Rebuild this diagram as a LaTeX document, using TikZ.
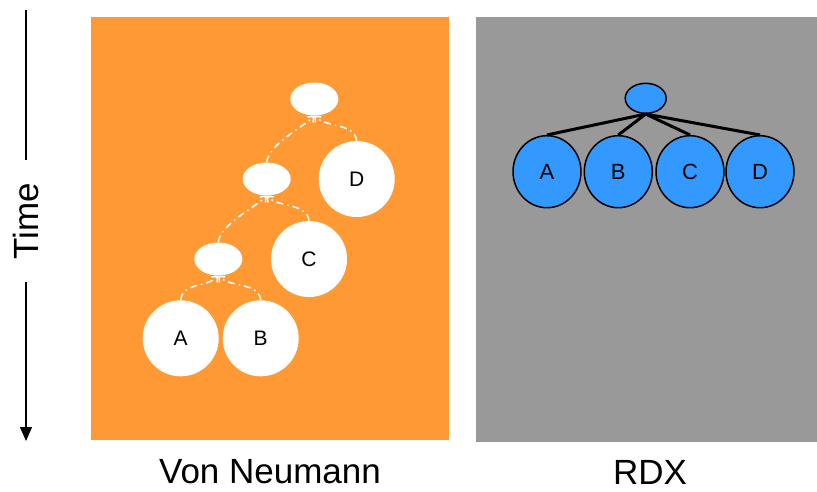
\documentclass[tikz,border=0pt]{standalone}
\usepackage{fontspec}
\setmainfont{Liberation Sans}
\usetikzlibrary{shapes.geometric,arrows.meta}
\definecolor{vnorange}{RGB}{255,153,51}
\definecolor{rdxgray}{RGB}{153,153,153}
\definecolor{rdxblue}{RGB}{51,153,255}
\tikzset{
  leaf/.style={circle,fill=white,minimum size=76pt,inner sep=0pt,font=\fontsize{21}{21}\selectfont},
  joinnode/.style={ellipse,fill=white,minimum width=48pt,minimum height=33pt,inner sep=0pt},
  conn/.style={white,line width=1.5pt,dash pattern=on 7pt off 4pt on 1.5pt off 4pt,-{Straight Barb[length=4.5pt,width=8pt]}},
  rleaf/.style={ellipse,draw=black,line width=1.5pt,fill=rdxblue,minimum width=68pt,minimum height=72pt,inner sep=0pt,font=\fontsize{22}{22}\selectfont},
  rroot/.style={ellipse,draw=black,line width=1.5pt,fill=rdxblue,minimum width=41pt,minimum height=30pt,inner sep=0pt},
  redge/.style={black,line width=3pt},
  caption/.style={font=\fontsize{35}{35}\selectfont,inner sep=0pt}
}
\begin{document}
\begin{tikzpicture}[x=1pt,y=-1pt]
\useasboundingbox (0,0) rectangle (817,491);
% panels
\fill[vnorange] (91,17) rectangle (449,440);
\fill[rdxgray] (476,17) rectangle (817,442);
% time axis
\node[caption,rotate=90] (time) at (26,221) {Time};
\coordinate (t0) at (26,10);
\coordinate (t1) at (26,160);
\coordinate (t2) at (26,282);
\coordinate (t3) at (26,441);
\draw[line width=1.3pt] (t0) -- (t1);
\draw[line width=1.3pt,-{Triangle[length=14pt,width=12pt]}] (t2) -- (t3);
% Von Neumann tree
\node[leaf] (A) at (180.7,338.3) {A};
\node[leaf] (B) at (260.7,338.3) {B};
\node[joinnode] (e1) at (218.3,259) {};
\node[leaf] (C) at (309,259) {C};
\node[joinnode] (e2) at (266.7,179) {};
\node[leaf] (D) at (356.7,179) {D};
\node[joinnode] (e3) at (314.3,99) {};
\draw[conn] (A.north) .. controls +(2,-18) and +(-12,12) .. (e1.south);
\draw[conn] (B.north) .. controls +(-2,-18) and +(12,12) .. (e1.south);
\draw[conn] (e1.north) .. controls +(2,-18) and +(-12,12) .. (e2.south);
\draw[conn] (C.north) .. controls +(-2,-18) and +(12,12) .. (e2.south);
\draw[conn] (e2.north) .. controls +(2,-18) and +(-12,12) .. (e3.south);
\draw[conn] (D.north) .. controls +(-2,-18) and +(12,12) .. (e3.south);
% RDX tree
\node[rroot] (r) at (645.7,98.3) {};
\node[rleaf] (ra) at (547,171.7) {A};
\node[rleaf] (rb) at (618.3,171.7) {B};
\node[rleaf] (rc) at (690,171.7) {C};
\node[rleaf] (rd) at (760,171.7) {D};
\draw[redge] (r.south) -- (ra.north);
\draw[redge] (r.south) -- (rb.north);
\draw[redge] (r.south) -- (rc.north);
\draw[redge] (r.south) -- (rd.north);
% captions
\node[caption] (vn) at (270,472) {Von Neumann};
\node[caption] (rdx) at (650,472) {RDX};
\end{tikzpicture}
\end{document}
